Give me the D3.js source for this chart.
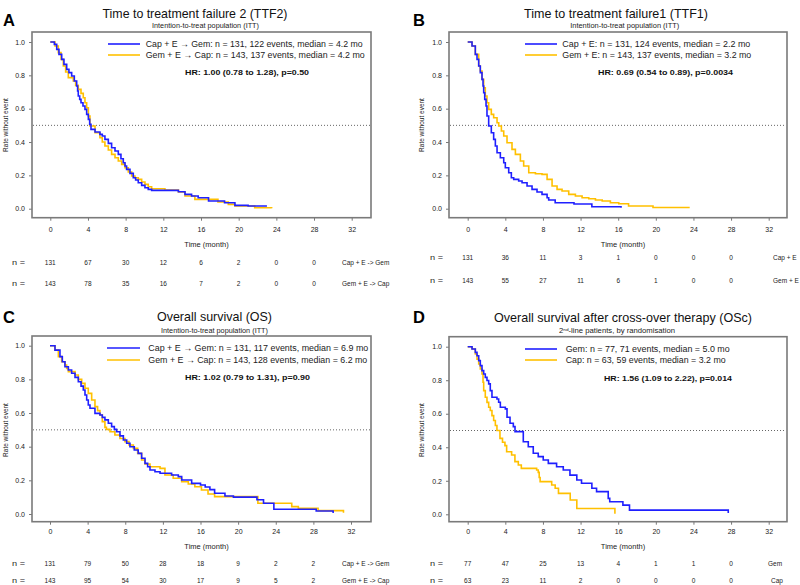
<!DOCTYPE html>
<html><head><meta charset="utf-8">
<script src="https://cdn.jsdelivr.net/npm/d3@7"></script>
<style>body{margin:0;background:#fff}svg{display:block}</style>
</head><body><svg id="c" width="800" height="585"></svg>
<script>
// ---------- shared axis data ----------
const xTicks = [0, 4, 8, 12, 16, 20, 24, 28, 32];
const yTicks = [0, 0.2, 0.4, 0.6, 0.8, 1.0];
const riskTimes = [0, 4, 8, 12, 16, 20, 24, 28];

// ---------- Panel A : TTF2 ----------
const ttf2CapT = [0, 0.43, 0.68, 0.92, 1.21, 1.45, 1.74, 1.98, 2.27, 2.55, 2.8, 2.9, 2.97, 3.12, 3.26, 3.47, 3.68, 3.86, 4.04, 4.18, 4.32, 4.75, 5.27, 5.52, 5.8, 6.16, 6.51, 6.87, 7.22, 7.5, 7.75, 7.93, 8.1, 8.46, 8.81, 9.06, 9.34, 9.7, 10.05, 10.4, 10.76, 13.6, 14.3, 15.0, 15.7, 16.8, 18.5, 19.6, 21.0, 23.0];
const ttf2CapS = [1, 0.986, 0.956, 0.926, 0.896, 0.866, 0.836, 0.816, 0.796, 0.766, 0.736, 0.706, 0.676, 0.656, 0.636, 0.616, 0.596, 0.566, 0.536, 0.506, 0.476, 0.46, 0.446, 0.436, 0.416, 0.392, 0.366, 0.346, 0.326, 0.3, 0.276, 0.256, 0.236, 0.212, 0.186, 0.172, 0.156, 0.14, 0.126, 0.116, 0.11, 0.102, 0.086, 0.076, 0.066, 0.046, 0.036, 0.02, 0.016, 0.016];
const ttf2GemT = [0, 0.5, 0.85, 1.14, 1.38, 1.63, 1.91, 2.44, 2.69, 2.97, 3.26, 3.5, 3.68, 3.86, 4.04, 4.21, 4.75, 5.27, 5.52, 5.8, 6.16, 6.51, 6.87, 7.22, 7.58, 7.93, 8.28, 8.64, 8.99, 9.34, 9.7, 10.05, 10.4, 10.76, 12.17, 13.6, 14.3, 15.35, 17.8, 18.9, 19.6, 21.7, 23.5];
const ttf2GemS = [1, 0.976, 0.936, 0.896, 0.856, 0.82, 0.786, 0.766, 0.74, 0.716, 0.692, 0.666, 0.636, 0.606, 0.556, 0.496, 0.456, 0.426, 0.4, 0.376, 0.352, 0.326, 0.306, 0.286, 0.266, 0.246, 0.22, 0.196, 0.186, 0.176, 0.16, 0.146, 0.132, 0.12, 0.112, 0.1, 0.076, 0.056, 0.04, 0.026, 0.016, 0.006, 0.002];
const ttf2CapRisk = [131, 67, 30, 12, 6, 2, 0, 0];
const ttf2GemRisk = [143, 78, 35, 16, 7, 2, 0, 0];

// ---------- Panel B : TTF1 ----------
const ttf1CapT = [0, 0.46, 0.81, 0.99, 1.17, 1.34, 1.52, 1.63, 1.7, 1.81, 1.95, 2.05, 2.23, 2.51, 2.76, 2.94, 3.12, 3.47, 3.83, 4.0, 4.36, 4.64, 4.89, 5.42, 5.78, 6.31, 6.84, 7.37, 7.9, 8.44, 8.61, 9.3, 11.3, 13.2, 16.3];
const ttf1CapS = [1, 0.976, 0.926, 0.896, 0.856, 0.816, 0.776, 0.736, 0.696, 0.656, 0.616, 0.556, 0.496, 0.456, 0.416, 0.376, 0.336, 0.306, 0.276, 0.246, 0.216, 0.186, 0.176, 0.166, 0.156, 0.136, 0.116, 0.1, 0.086, 0.066, 0.052, 0.036, 0.028, 0.012, 0.006];
const ttf1GemT = [0, 0.46, 0.81, 1.17, 1.34, 1.52, 1.7, 1.87, 2.05, 2.23, 2.51, 2.76, 3.12, 3.3, 3.58, 3.83, 4.18, 4.71, 5.07, 5.6, 5.95, 6.49, 7.2, 7.9, 8.44, 8.97, 9.5, 10.03, 10.74, 11.45, 12.16, 12.87, 13.58, 14.3, 15.17, 16.06, 17.1, 19.7, 23.6];
const ttf1GemS = [1, 0.976, 0.926, 0.856, 0.826, 0.776, 0.726, 0.676, 0.636, 0.596, 0.566, 0.546, 0.516, 0.496, 0.466, 0.436, 0.396, 0.356, 0.326, 0.286, 0.256, 0.216, 0.21, 0.206, 0.176, 0.136, 0.116, 0.106, 0.086, 0.076, 0.066, 0.06, 0.052, 0.046, 0.036, 0.03, 0.016, 0.007, 0.007];
const ttf1CapRisk = [131, 36, 11, 3, 1, 0, 0, 0];
const ttf1GemRisk = [143, 55, 27, 11, 6, 1, 0, 0];

// ---------- Panel C : OS ----------
const osCapT = [0, 0.53, 1.06, 1.31, 1.59, 1.95, 2.3, 2.66, 3.01, 3.3, 3.54, 3.72, 3.9, 4.07, 4.25, 4.78, 5.31, 5.56, 5.84, 6.2, 6.55, 6.84, 7.08, 7.44, 7.8, 8.15, 8.5, 8.96, 9.38, 9.74, 10.1, 10.38, 10.63, 11.16, 11.7, 12.93, 13.64, 14.0, 15.06, 16.0, 16.5, 17.0, 17.5, 18.6, 19.5, 22.0, 22.7, 23.8, 28.3, 30.1];
const osCapS = [1, 0.974, 0.935, 0.905, 0.875, 0.856, 0.836, 0.812, 0.786, 0.76, 0.737, 0.707, 0.677, 0.648, 0.628, 0.598, 0.588, 0.574, 0.559, 0.539, 0.519, 0.503, 0.489, 0.464, 0.44, 0.42, 0.4, 0.38, 0.36, 0.331, 0.301, 0.281, 0.261, 0.251, 0.242, 0.232, 0.222, 0.202, 0.182, 0.172, 0.16, 0.145, 0.123, 0.107, 0.1, 0.085, 0.064, 0.028, 0.018, 0.006];
const osGemT = [0, 0.53, 0.89, 1.24, 1.59, 1.77, 1.95, 2.66, 3.01, 3.37, 3.72, 4.07, 4.43, 4.78, 5.06, 5.31, 5.56, 5.84, 6.0, 6.38, 6.9, 7.44, 7.97, 8.4, 8.86, 9.32, 9.74, 10.1, 10.63, 11.7, 12.22, 13.1, 14.0, 14.7, 15.4, 16.1, 16.8, 17.5, 22.1, 25.7, 26.4, 28.5, 31.2];
const osGemS = [1, 0.974, 0.935, 0.905, 0.885, 0.865, 0.846, 0.826, 0.8, 0.776, 0.747, 0.717, 0.677, 0.638, 0.614, 0.588, 0.549, 0.515, 0.503, 0.489, 0.469, 0.449, 0.43, 0.41, 0.39, 0.36, 0.321, 0.297, 0.281, 0.271, 0.232, 0.212, 0.192, 0.178, 0.162, 0.143, 0.119, 0.103, 0.064, 0.044, 0.034, 0.02, 0.008];
const osCapRisk = [131, 79, 50, 28, 18, 9, 2, 2];
const osGemRisk = [143, 95, 54, 30, 17, 9, 5, 2];

// ---------- Panel D : OSc ----------
const oscGemT = [0, 0.46, 0.81, 0.99, 1.17, 1.34, 1.52, 1.7, 1.87, 2.05, 2.23, 2.4, 2.58, 3.11, 3.29, 3.47, 4.0, 4.18, 4.5, 4.85, 5.03, 5.91, 6.44, 6.97, 7.5, 8.03, 8.57, 9.45, 10.16, 10.87, 11.6, 12.1, 13.2, 13.7, 14.94, 15.1, 16.5, 17.2, 27.7];
const oscGemS = [1, 0.986, 0.966, 0.946, 0.917, 0.887, 0.857, 0.837, 0.817, 0.798, 0.778, 0.738, 0.698, 0.688, 0.669, 0.639, 0.629, 0.579, 0.543, 0.523, 0.493, 0.433, 0.403, 0.364, 0.344, 0.324, 0.304, 0.284, 0.264, 0.234, 0.205, 0.185, 0.155, 0.135, 0.095, 0.075, 0.055, 0.025, 0.008];
const oscCapT = [0, 0.46, 0.81, 0.99, 1.17, 1.34, 1.52, 1.63, 1.7, 1.87, 2.05, 2.23, 2.4, 2.58, 2.76, 2.94, 3.11, 3.43, 3.7, 3.96, 4.14, 4.67, 5.02, 5.38, 5.7, 7.33, 7.5, 7.6, 7.7, 8.93, 9.3, 9.65, 10.9, 11.6, 15.65];
const oscCapS = [1, 0.986, 0.956, 0.926, 0.897, 0.867, 0.837, 0.788, 0.738, 0.698, 0.668, 0.639, 0.619, 0.589, 0.56, 0.53, 0.5, 0.453, 0.43, 0.41, 0.373, 0.354, 0.314, 0.294, 0.274, 0.264, 0.25, 0.22, 0.195, 0.175, 0.155, 0.125, 0.085, 0.035, 0.004];
const oscGemRisk = [77, 47, 25, 13, 4, 1, 1, 0];
const oscCapRisk = [63, 23, 11, 2, 0, 0, 0, 0];

// ---------- styling / layout ----------
const BLUE = "#1f1fff", GOLD = "#ffc000";
const FONT = "'Liberation Sans', Arial, sans-serif";

const panels = [
  { letter: "A", title: "Time to treatment failure 2 (TTF2)", sub: "Intention-to-treat population (ITT)",
    series: [
      { t: ttf2CapT, s: ttf2CapS, color: BLUE, legend: "Cap + E \u2192 Gem: n = 131, 122 events, median = 4.2 mo", w: 217 },
      { t: ttf2GemT, s: ttf2GemS, color: GOLD, legend: "Gem + E \u2192 Cap: n = 143, 137 events, median = 4.2 mo", w: 219 }],
    hr: "HR: 1.00 (0.78 to 1.28), p=0.50",
    risk: [ttf2CapRisk, ttf2GemRisk], riskLabels: ["Cap + E -> Gem", "Gem + E -> Cap"],
    L: { box: [32, 371, 32, 217.7], xr: [50.3, 351.7], yr: [208.7, 42], letter: [3, 26], title: [195, 17.5, 185],
         sub: [205.5, 27.5, 107], legLine: [108, 140], legY: [44, 55], legX: 145.7, hr: [247, 75, 124],
         yLab: [7.5, 125], xPad: 6, xLab: [206.5, 246.5], riskY: [264.5, 285.5], nX: 12, riskLabX: [342, 342] } },
  { letter: "B", title: "Time to treatment failure1 (TTF1)", sub: "Intention-to-treat population (ITT)",
    series: [
      { t: ttf1CapT, s: ttf1CapS, color: BLUE, legend: "Cap + E: n = 131, 124 events, median = 2.2 mo", w: 188 },
      { t: ttf1GemT, s: ttf1GemS, color: GOLD, legend: "Gem + E: n = 143, 137 events, median = 3.2 mo", w: 189 }],
    hr: "HR: 0.69 (0.54 to 0.89), p=0.0034",
    risk: [ttf1CapRisk, ttf1GemRisk], riskLabels: ["Cap + E", "Gem + E"],
    L: { box: [449, 787, 32, 217.7], xr: [467.7, 768.7], yr: [208.7, 42], letter: [413, 26], title: [616, 18, 184],
         sub: [624.7, 28, 109], legLine: [525, 557], legY: [44, 55], legX: 562.3, hr: [665.5, 74.5, 135],
         yLab: [424, 125], xPad: 6, xLab: [623, 247], riskY: [259.5, 283], nX: 430, riskLabX: [773, 773] } },
  { letter: "C", title: "Overall survival (OS)", sub: "Intention-to-treat population (ITT)",
    series: [
      { t: osCapT, s: osCapS, color: BLUE, legend: "Cap + E \u2192 Gem: n = 131, 117 events, median = 6.9 mo", w: 220 },
      { t: osGemT, s: osGemS, color: GOLD, legend: "Gem + E \u2192 Cap: n = 143, 128 events, median = 6.2 mo", w: 219 }],
    hr: "HR: 1.02 (0.79 to 1.31), p=0.90",
    risk: [osCapRisk, osGemRisk], riskLabels: ["Cap + E -> Gem", "Gem + E -> Cap"],
    L: { box: [32, 371, 336, 521.7], xr: [50, 351], yr: [514, 345.7], letter: [3, 323], title: [214.5, 321, 115],
         sub: [214.5, 332.5, 107], legLine: [107, 140], legY: [348, 360], legX: 148.3, hr: [247.5, 380, 125],
         yLab: [7.5, 430], xPad: 4.5, xLab: [206.5, 548.5], riskY: [565.5, 582.5], nX: 12, riskLabX: [342, 342] } },
  { letter: "D", title: "Overall survival after cross-over therapy (OSc)", sub: null,
    series: [
      { t: oscGemT, s: oscGemS, color: BLUE, legend: "Gem: n = 77, 71 events, median = 5.0 mo", w: 164 },
      { t: oscCapT, s: oscCapS, color: GOLD, legend: "Cap: n = 63, 59 events, median = 3.2 mo", w: 160 }],
    hr: "HR: 1.56 (1.09 to 2.22), p=0.014",
    risk: [oscGemRisk, oscCapRisk], riskLabels: ["Gem", "Cap"],
    L: { box: [449, 787, 336.7, 521.7], xr: [467.7, 768.7], yr: [514.3, 346.7], letter: [413, 323], title: [623, 321.5, 258],
         sub: [617, 333, 116], legLine: [525, 557], legY: [349, 360], legX: 565.7, hr: [668, 381, 128],
         yLab: [424, 430], xPad: 4.5, xLab: [623, 548.5], riskY: [565.5, 582.5], nX: 430, riskLabX: [768, 771] } }
];

const svg = d3.select("#c").style("font-family", FONT);
svg.append("rect").attr("width", 800).attr("height", 585).attr("fill", "#fff");

function txt(g, x, y, s, size, opts = {}) {
  const t = g.append("text").attr("x", x).attr("y", y).attr("font-size", size)
    .attr("fill", opts.fill || "#1a1a1a").attr("text-anchor", opts.anchor || "start").text(s);
  if (opts.bold) t.attr("font-weight", "bold");
  if (opts.w) t.attr("textLength", opts.w).attr("lengthAdjust", "spacingAndGlyphs");
  return t;
}

panels.forEach(p => {
  const L = p.L;
  const g = svg.append("g");
  const x = d3.scaleLinear().domain([0, 32]).range(L.xr);
  const y = d3.scaleLinear().domain([0, 1]).range(L.yr);
  const [bx0, bx1, by0, by1] = L.box;

  // panel letter, titles
  txt(g, L.letter[0], L.letter[1], p.letter, 16.5, { bold: true, fill: "#000" });
  txt(g, L.title[0], L.title[1], p.title, 13, { anchor: "middle", w: L.title[2], fill: "#111" });
  if (p.sub) {
    txt(g, L.sub[0], L.sub[1], p.sub, 6.5, { anchor: "middle", w: L.sub[2], fill: "#222" });
  } else {
    const t = g.append("text").attr("x", L.sub[0]).attr("y", L.sub[1]).attr("font-size", 6.5)
      .attr("text-anchor", "middle").attr("fill", "#222")
      .attr("textLength", L.sub[2]).attr("lengthAdjust", "spacingAndGlyphs");
    t.append("tspan").text("2");
    t.append("tspan").attr("font-size", 4).attr("dy", -2.5).text("nd");
    t.append("tspan").attr("dy", 2.5).text("-line patients, by randomisation");
  }

  // axes
  const yAx = g.append("g").attr("transform", `translate(${bx0},0)`)
    .call(d3.axisLeft(y).tickValues(yTicks).tickFormat(d3.format(".1f")).tickSize(3).tickPadding(4));
  const xAx = g.append("g").attr("transform", `translate(0,${by1})`)
    .call(d3.axisBottom(x).tickValues(xTicks).tickFormat(d3.format("d")).tickSize(3).tickPadding(L.xPad));
  [yAx, xAx].forEach(a => {
    a.select(".domain").remove();
    a.selectAll("line").attr("stroke", "#777");
    a.selectAll("text").attr("font-size", 7).attr("fill", "#222").attr("font-family", FONT);
  });

  // box
  g.append("rect").attr("x", bx0).attr("y", by0).attr("width", bx1 - bx0).attr("height", by1 - by0)
    .attr("fill", "none").attr("stroke", "#7a7a7a").attr("stroke-width", 1.6);

  // median reference line
  g.append("line").attr("x1", bx0 + 1).attr("x2", bx1 - 1).attr("y1", y(0.5)).attr("y2", y(0.5))
    .attr("stroke", "#666").attr("stroke-width", 1).attr("stroke-dasharray", "1,2");

  // axis titles
  txt(g, 0, 0, "Rate without event", 6.5, { anchor: "middle", fill: "#222" })
    .attr("transform", `translate(${L.yLab[0]},${L.yLab[1]}) rotate(-90)`);
  txt(g, L.xLab[0], L.xLab[1], "Time (month)", 7.5, { anchor: "middle", fill: "#222" });

  // curves
  const line = d3.line().x(d => x(d[0])).y(d => y(d[1])).curve(d3.curveStepAfter);
  p.series.slice().reverse().forEach(s => {
    const pts = s.t.map((tt, i) => [tt, s.s[i]]);
    g.append("path").attr("d", line(pts)).attr("fill", "none")
      .attr("stroke", s.color).attr("stroke-width", 1.6);
  });

  // legend
  p.series.forEach((s, i) => {
    g.append("line").attr("x1", L.legLine[0]).attr("x2", L.legLine[1])
      .attr("y1", L.legY[i]).attr("y2", L.legY[i]).attr("stroke", s.color).attr("stroke-width", 1.6);
    txt(g, L.legX, L.legY[i] + 3, s.legend, 8.5, { w: s.w, fill: "#222" });
  });
  txt(g, L.hr[0], L.hr[1], p.hr, 8, { anchor: "middle", bold: true, w: L.hr[2], fill: "#111" });

  // numbers at risk
  p.risk.forEach((row, r) => {
    txt(g, L.nX, L.riskY[r], "n  =", 6.5, { w: 13, fill: "#222" });
    row.forEach((v, i) => txt(g, x(riskTimes[i]), L.riskY[r], String(v), 6.5, { anchor: "middle", fill: "#222" }));
    txt(g, L.riskLabX[r], L.riskY[r], p.riskLabels[r], 6.5, { fill: "#222" });
  });
});
</script>
</body></html>
